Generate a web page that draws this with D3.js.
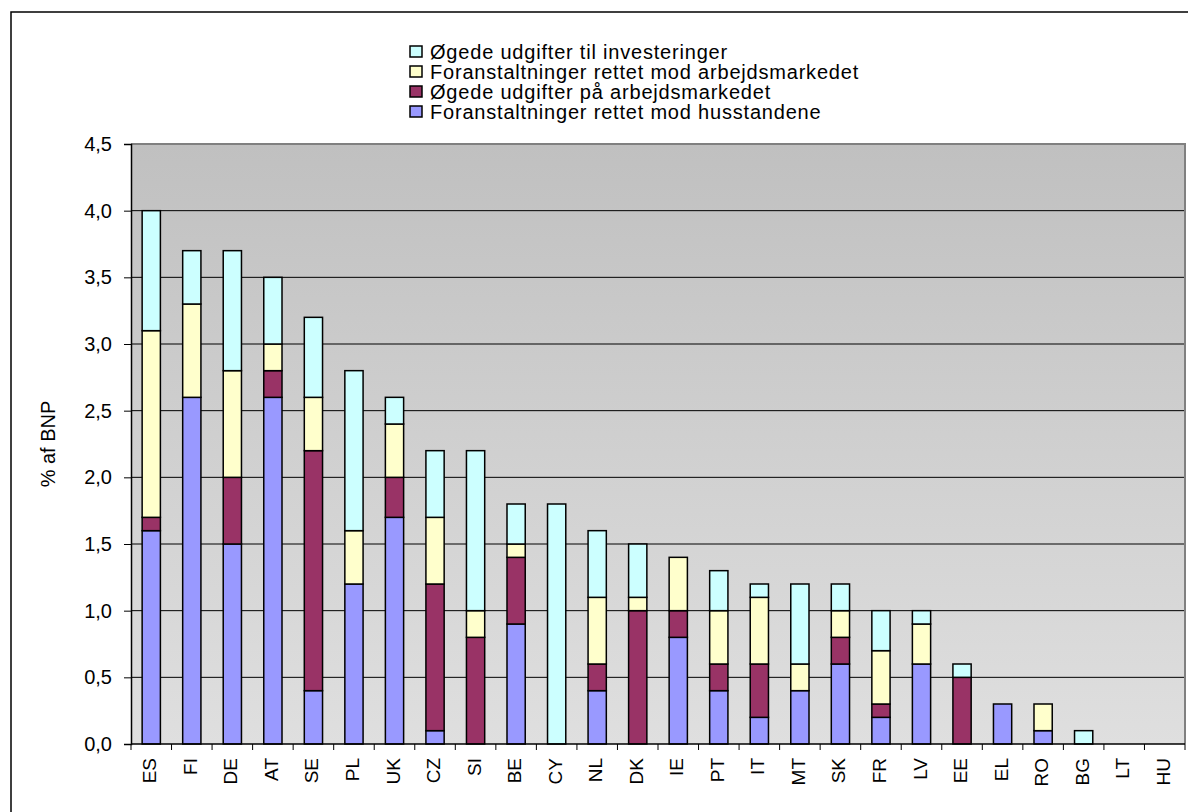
<!DOCTYPE html>
<html><head><meta charset="utf-8">
<script src="https://cdn.jsdelivr.net/npm/d3@7/dist/d3.min.js"></script>
<style>body{margin:0;background:#fff;} text{font-family:"Liberation Sans",Arial,sans-serif;}</style>
</head><body><svg id="c" width="1188" height="812"></svg>
<script>
const categories = ["ES","FI","DE","AT","SE","PL","UK","CZ","SI","BE","CY","NL","DK","IE","PT","IT","MT","SK","FR","LV","EE","EL","RO","BG","LT","HU"];
const households   = [1.6,2.6,1.5,2.6,0.4,1.2,1.7,0.1,0.0,0.9,0.0,0.4,0.0,0.8,0.4,0.2,0.4,0.6,0.2,0.6,0.0,0.3,0.1,0.0,0,0];
const labourSpend  = [0.1,0.0,0.5,0.2,1.8,0.0,0.3,1.1,0.8,0.5,0.0,0.2,1.0,0.2,0.2,0.4,0.0,0.2,0.1,0.0,0.5,0.0,0.0,0.0,0,0];
const labourMeas   = [1.4,0.7,0.8,0.2,0.4,0.4,0.4,0.5,0.2,0.1,0.0,0.5,0.1,0.4,0.4,0.5,0.2,0.2,0.4,0.3,0.0,0.0,0.2,0.0,0,0];
const investment   = [0.9,0.4,0.9,0.5,0.6,1.2,0.2,0.5,1.2,0.3,1.8,0.5,0.4,0.0,0.3,0.1,0.6,0.2,0.3,0.1,0.1,0.0,0.0,0.1,0,0];
const seriesNames = ["Foranstaltninger rettet mod husstandene","Øgede udgifter på arbejdsmarkedet","Foranstaltninger rettet mod arbejdsmarkedet","Øgede udgifter til investeringer"];
const seriesColors = ["#9999FF","#993366","#FFFFCC","#CCFFFF"];
const yTicks = [0,0.5,1,1.5,2,2.5,3,3.5,4,4.5];
const yLabel = "% af BNP";

const svg = d3.select("#c");
const L=131, R=1185, T=144, B=744;
const FONT = 20;

// chart border
svg.append("rect").attr("x",11).attr("y",12).attr("width",1200).attr("height",900)
  .attr("fill","#fff").attr("stroke","#000").attr("stroke-width",1.5);

const defs = svg.append("defs");
const g = defs.append("linearGradient").attr("id","bg").attr("x1",0).attr("y1",0).attr("x2",0).attr("y2",1);
g.append("stop").attr("offset","0%").attr("stop-color","#c0c0c0");
g.append("stop").attr("offset","100%").attr("stop-color","#dfdfdf");
svg.append("rect").attr("x",L).attr("y",T).attr("width",R-L).attr("height",B-T).attr("fill","url(#bg)");

const x = d3.scaleBand().domain(categories).range([L,R]).paddingInner(0.55).paddingOuter(0.275);
const y = d3.scaleLinear().domain([0,4.5]).range([B,T]);

// gridlines
svg.append("g").selectAll("line").data(yTicks.filter(t=>t>0 && t<4.5)).join("line")
  .attr("x1",L).attr("x2",R).attr("y1",d=>y(d)).attr("y2",d=>y(d))
  .attr("stroke","#000").attr("stroke-width",1);

// plot border top/right
svg.append("path").attr("d",`M${L},${T}H${R}V${B}`).attr("fill","none").attr("stroke","#808080").attr("stroke-width",2);

const stackData = categories.map((c,i)=>({cat:c, s0:households[i], s1:labourSpend[i], s2:labourMeas[i], s3:investment[i]}));
const stack = d3.stack().keys(["s0","s1","s2","s3"])(stackData);
stack.forEach((layer,k)=>{
  svg.append("g").selectAll("rect").data(layer.filter(d=>d[1]-d[0]>0)).join("rect")
    .attr("x",d=>x(d.data.cat)).attr("width",x.bandwidth())
    .attr("y",d=>y(d[1])).attr("height",d=>y(d[0])-y(d[1]))
    .attr("fill",seriesColors[k]).attr("stroke","#000").attr("stroke-width",1.5);
});

// y axis
const ya = svg.append("g").attr("transform",`translate(${L},0)`)
  .call(d3.axisLeft(y).tickValues(yTicks).tickSize(7).tickPadding(12).tickFormat(d=>d3.format(".1f")(d).replace(".",",")));
ya.select(".domain").attr("stroke","#000").attr("stroke-width",1.5);
ya.selectAll("text").attr("font-size",FONT).attr("fill","#000").attr("font-family","Liberation Sans, Arial");

// x axis
const step = x.step();
const xa = svg.append("g").attr("transform",`translate(0,${B})`);
xa.append("line").attr("x1",L).attr("x2",R).attr("stroke","#000").attr("stroke-width",1.5);
const bounds = d3.range(categories.length+1).map(i=>L+i*step);
xa.selectAll("line.t").data(bounds).join("line").attr("class","t")
  .attr("x1",d=>d).attr("x2",d=>d).attr("y1",0).attr("y2",6).attr("stroke","#000");
xa.selectAll("text").data(categories).join("text")
  .attr("transform",d=>`translate(${x(d)+x.bandwidth()/2+5},14) rotate(-90)`)
  .attr("text-anchor","end").attr("font-size",19).text(d=>d);

// y label
svg.append("text").attr("transform","translate(55,444) rotate(-90)").attr("text-anchor","middle")
  .attr("font-size",FONT).text(yLabel);

// legend (reverse order)
const legOrder = [3,2,1,0];
const lg = svg.append("g");
legOrder.forEach((k,i)=>{
  const yy = 51.5 + i*20;
  lg.append("rect").attr("x",410).attr("y",yy-5.5).attr("width",12).attr("height",11)
    .attr("fill",seriesColors[k]).attr("stroke","#000").attr("stroke-width",1.5);
  lg.append("text").attr("x",430).attr("y",yy+7).attr("font-size",FONT).attr("letter-spacing",0.8).text(seriesNames[k]);
});
</script></body></html>
